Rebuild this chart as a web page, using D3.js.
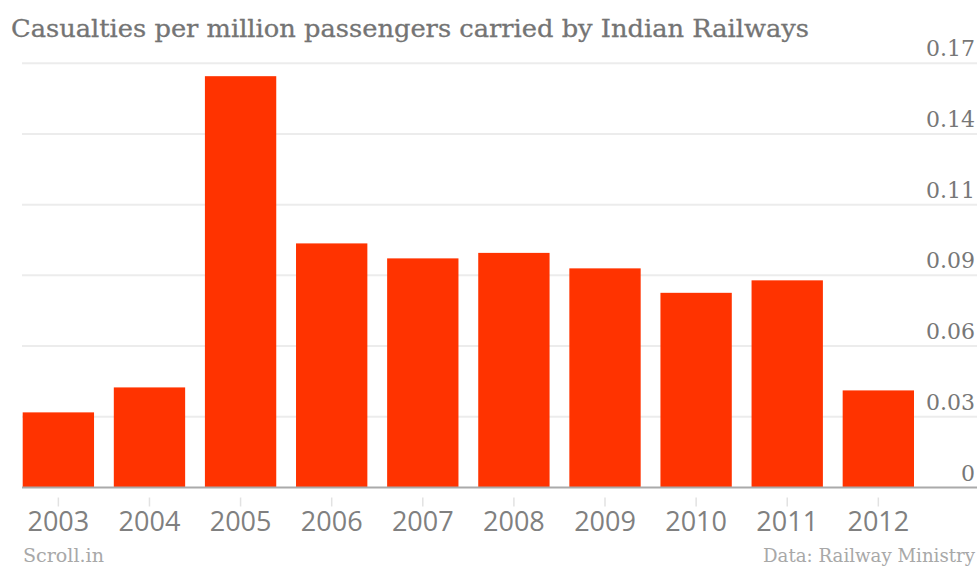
<!DOCTYPE html>
<html>
<head>
<meta charset="utf-8">
<script src="https://cdn.jsdelivr.net/npm/d3@7"></script>
<style>
  html, body { margin: 0; padding: 0; background: #fff; }
  svg { display: block; }
</style>
</head>
<body>
<svg id="chart" width="980" height="567"></svg>
<script>
// Casualties per million passengers carried, by year
const years = ["2003", "2004", "2005", "2006", "2007", "2008", "2009", "2010", "2011", "2012"];
const casualties = [0.0301, 0.0401, 0.1648, 0.0978, 0.0918, 0.0940, 0.0878, 0.0780, 0.0830, 0.0389];
// Axis labels are shown rounded to two decimals
const yTickValues = [0, 0.17 / 6, 0.34 / 6, 0.51 / 6, 0.68 / 6, 0.85 / 6, 0.17];
const yTickLabels = ["0", "0.03", "0.06", "0.09", "0.11", "0.14", "0.17"];

const svg = d3.select("#chart");
const serif = "'DejaVu Serif', serif";
const sans = "'Open Sans', sans-serif";

const x = d3.scaleBand()
  .domain(years)
  .range([22.7, 914])
  .paddingInner(0.217)
  .paddingOuter(0);

const y = d3.scaleLinear()
  .domain([0, 0.17])
  .range([487.5, 63.2]);

// Title
svg.append("text")
  .attr("x", 11)
  .attr("y", 37)
  .attr("textLength", 798)
  .attr("lengthAdjust", "spacingAndGlyphs")
  .style("font-family", serif)
  .style("font-size", "24px")
  .style("fill", "#747474")
  .style("stroke", "#747474")
  .style("stroke-width", 0.3)
  .text("Casualties per million passengers carried by Indian Railways");

// Horizontal grid lines
svg.append("g")
  .selectAll("line")
  .data(yTickValues.slice(1))
  .join("line")
  .attr("x1", 22)
  .attr("x2", 977)
  .attr("y1", d => y(d))
  .attr("y2", d => y(d))
  .attr("stroke", "#ececec")
  .attr("stroke-width", 2);

// Bars
svg.append("g")
  .selectAll("rect")
  .data(years.map((yr, i) => ({ yr, v: casualties[i] })))
  .join("rect")
  .attr("x", d => x(d.yr))
  .attr("width", x.bandwidth())
  .attr("y", d => y(d.v))
  .attr("height", d => y(0) - y(d.v))
  .attr("fill", "#ff3300");

// Baseline
svg.append("line")
  .attr("x1", 22)
  .attr("x2", 977)
  .attr("y1", y(0))
  .attr("y2", y(0))
  .attr("stroke", "#aaaaaa")
  .attr("stroke-width", 2);

// Right-hand value axis labels, sitting above each grid line
const yAxis = svg.append("g");
yAxis.selectAll("text")
  .data(yTickValues)
  .join("text")
  .attr("x", 975)
  .attr("y", d => y(d) - 7)
  .attr("text-anchor", "end")
  .style("font-family", serif)
  .style("font-size", "22px")
  .style("fill", "#777777")
  .text((d, i) => yTickLabels[i]);

// Year axis with small tick marks below the baseline
const xAxis = svg.append("g")
  .attr("transform", `translate(0, ${y(0) + 10})`)
  .call(d3.axisBottom(x).tickSize(9).tickPadding(5));
xAxis.select(".domain").remove();
xAxis.selectAll(".tick line")
  .attr("stroke", "#e2e2e2")
  .attr("stroke-width", 1.5);
xAxis.selectAll(".tick text")
  .style("font-family", sans)
  .style("font-size", "27px")
  .style("fill", "#808080");

// Footer: source and credit
svg.append("text")
  .attr("x", 23)
  .attr("y", 562)
  .attr("textLength", 81)
  .attr("lengthAdjust", "spacingAndGlyphs")
  .style("font-family", serif)
  .style("font-size", "18px")
  .style("fill", "#a8a8a8")
  .text("Scroll.in");

svg.append("text")
  .attr("x", 763)
  .attr("y", 562)
  .attr("textLength", 212)
  .attr("lengthAdjust", "spacingAndGlyphs")
  .style("font-family", serif)
  .style("font-size", "18px")
  .style("fill", "#a8a8a8")
  .text("Data: Railway Ministry");
</script>
</body>
</html>
